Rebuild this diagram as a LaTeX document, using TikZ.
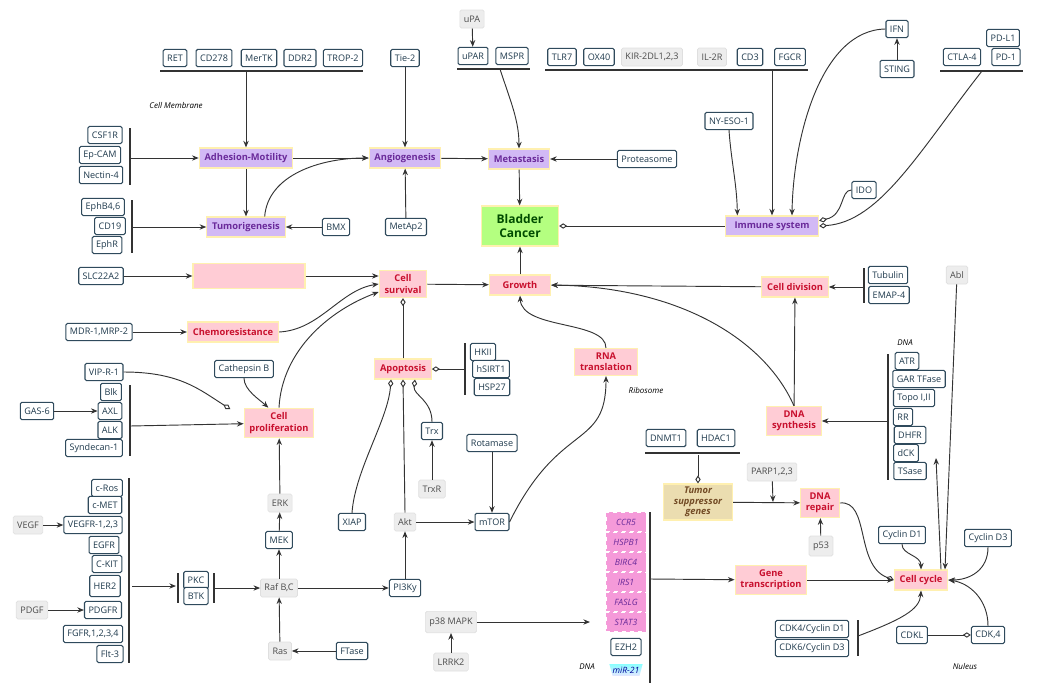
\documentclass[tikz,border=0pt]{standalone}
\usepackage{fontspec}
\setmainfont{Open Sans}
\usetikzlibrary{arrows.meta,shapes.geometric}
\definecolor{bx}{HTML}{2F4A5C}
\definecolor{bt}{HTML}{1F3A4D}
\definecolor{pu}{HTML}{D2B9F5}
\definecolor{put}{HTML}{6A2A9A}
\definecolor{pk}{HTML}{FFCCD5}
\definecolor{pkt}{HTML}{C8102E}
\definecolor{yb}{HTML}{FFF0B0}
\definecolor{gn}{HTML}{B4FF80}
\definecolor{ln}{HTML}{333333}
\definecolor{tan}{HTML}{EBDDB0}
\definecolor{mg}{HTML}{F59AD9}
\begin{document}
\begin{tikzpicture}[x=0.75pt,y=-0.75pt,
  every node/.style={font=\fontsize{6.8}{7.8}\selectfont},
  box/.style={draw=bx,line width=0.8pt,rounded corners=1.2pt,fill=white,text=bt,inner xsep=3pt,inner ysep=1pt,minimum height=13pt},
  gbox/.style={draw=gray!25,line width=0.5pt,rounded corners=1.2pt,fill=gray!14,text=gray!60!black,inner xsep=3pt,inner ysep=1pt,minimum height=13.5pt},
  pur/.style={draw=yb,line width=0.8pt,fill=pu,text=put,font=\fontsize{7}{8}\selectfont\bfseries,inner xsep=4pt,minimum height=15pt},
  pnk/.style={draw=yb,line width=0.8pt,fill=pk,text=pkt,font=\fontsize{7}{8.5}\selectfont\bfseries,inner xsep=4pt,minimum height=15pt,align=center},
  gene/.style={draw=white,dashed,line width=0.5pt,fill=mg,text=put,font=\fontsize{6.5}{7.5}\selectfont\itshape,minimum width=30pt,minimum height=14.5pt,inner sep=0pt},
  lbl/.style={font=\fontsize{6}{7}\selectfont\itshape},
  ar/.style={-{Stealth[length=5pt,width=4pt]},line width=0.7pt,draw=ln},
  dia/.style={-{Diamond[open,length=6pt,width=4pt]},line width=0.7pt,draw=ln},
  br/.style={line width=0.8pt,draw=ln}]
\useasboundingbox (0,0) rectangle (1042,693);
% top membrane group
\node[box] (RET) at (175,58) {RET};
\node[box] (CD278) at (214,58) {CD278};
\node[box] (MerTK) at (259,58) {MerTK};
\node[box] (DDR2) at (300,58) {DDR2};
\node[box] (TROP) at (343,58) {TROP-2};
\draw[br] (160,71) -- (363,71);
\coordinate (mem1) at (246,71);
\node[box] (Tie2) at (405,58) {Tie-2};
\node[gbox] (uPA) at (472,19) {uPA};
\node[box] (uPAR) at (473,56) {uPAR};
\node[box] (MSPR) at (512,56) {MSPR};
\draw[br] (457,69) -- (530,69);
\coordinate (mem2) at (500,69);
\node[lbl] at (176,105) {Cell Membrane};
\node[box] (CSF1R) at (105,135) {CSF1R};
\node[box] (EpCAM) at (100,155) {Ep-CAM};
\node[box] (Nectin) at (101,175) {Nectin-4};
\draw[br] (130,128) -- (130,185);
\coordinate (b1) at (130,158);
\node[pur] (adh) at (246,158) {Adhesion-Motility};
\node[pur] (ang) at (405,158) {Angiogenesis};
\node[pur] (met) at (519,159) {Metastasis};
\node[box] (prot) at (647,159) {Proteasome};
\node[pur] (tum) at (246,227) {Tumorigenesis};
\node[box] (EphB) at (103,207) {EphB4,6};
\node[box] (CD19) at (110,226) {CD19};
\node[box] (EphR) at (107,245) {EphR};
\draw[br] (132,200) -- (132,253);
\coordinate (b2) at (132,227);
\node[box] (BMX) at (336,227) {BMX};
\node[box] (MetAp2) at (406,227) {MetAp2};
\node[draw=yb,line width=0.8pt,fill=gn,text=green!30!black,font=\fontsize{9}{10.5}\selectfont\bfseries,align=center,minimum width=58pt,minimum height=30pt] (bc) at (520,226) {Bladder\\Cancer};
\node[pur,minimum width=70pt] (imm) at (772,226) {Immune system};
\node[box] (NY) at (729,121) {NY-ESO-1};
\node[box] (TLR7) at (562,57) {TLR7};
\node[box] (OX40) at (599,57) {OX40};
\node[gbox] (KIR) at (652,57) {KIR-2DL1,2,3};
\node[gbox] (IL2R) at (712,57) {IL-2R};
\node[box] (CD3) at (750,57) {CD3};
\node[box] (FGCR) at (790,57) {FGCR};
\draw[br] (545,70) -- (808,70);
\coordinate (mem3) at (772,70);
\node[box] (IFN) at (897,29) {IFN};
\node[box] (STING) at (897,69) {STING};
\node[box] (PDL1) at (1003,38) {PD-L1};
\node[box] (CTLA) at (962,57) {CTLA-4};
\node[box] (PD1) at (1006,57) {PD-1};
\draw[br] (940,71) -- (1023,71);
\coordinate (mem4) at (982,71);
\node[box] (IDO) at (864,190) {IDO};
% middle
\node[box] (SLC) at (101,276) {SLC22A2};
\node[pnk,minimum width=84pt,minimum height=19pt] (blank) at (249,276) {};
\node[pnk] (surv) at (403,284) {Cell\\survival};
\node[pnk,minimum width=46pt] (grow) at (520,285) {Growth};
\node[pnk] (div) at (795,287) {Cell division};
\node[box] (Tub) at (888,275) {Tubulin};
\node[box] (EMAP) at (889,295) {EMAP-4};
\draw[br] (864,268) -- (864,303);
\coordinate (b3) at (864,287);
\node[gbox] (Abl) at (957,275) {Abl};
\node[box] (MDR) at (99,332) {MDR-1,MRP-2};
\node[pnk] (chemo) at (233,332) {Chemoresistance};
\node[pnk] (prolif) at (279,423) {Cell\\proliferation};
\node[pnk] (apop) at (403,369) {Apoptosis};
\node[box] (HKII) at (483,352) {HKII};
\node[box] (hSIRT) at (491,369) {hSIRT1};
\node[box] (HSP) at (492,387) {HSP27};
\draw[br] (465,343) -- (465,395);
\coordinate (b4) at (465,369);
\node[pnk] (rna) at (606,362) {RNA\\translation};
\node[lbl] at (646,390) {Ribosome};
\node[pnk] (dsyn) at (794,421) {DNA\\synthesis};
\node[lbl] at (905,343) {DNA};
\node[box] (ATR) at (907,361) {ATR};
\node[box] (GAR) at (919,379) {GAR TFase};
\node[box] (Topo) at (914,398) {Topo I,II};
\node[box] (RR) at (903,417) {RR};
\node[box] (DHFR) at (910,435) {DHFR};
\node[box] (dCK) at (906,453) {dCK};
\node[box] (TSase) at (910,471) {TSase};
\draw[br] (888,354) -- (888,480);
\coordinate (b5) at (888,421);
\node[box] (VIP) at (104,372) {VIP-R-1};
\node[box] (Cath) at (244,369) {Cathepsin B};
\node[box] (Blk) at (111,392) {Blk};
\node[box] (AXL) at (110,411) {AXL};
\node[box] (ALK) at (110,430) {ALK};
\node[box] (Synd) at (94,448) {Syndecan-1};
\draw[br] (130,385) -- (130,456);
\coordinate (b6) at (130,426);
\node[box] (GAS) at (37,411) {GAS-6};
% receptors
\node[box] (cRos) at (107,488) {c-Ros};
\node[box] (cMET) at (105,505) {c-MET};
\node[box] (VEGFR) at (93,525) {VEGFR-1,2,3};
\node[box] (EGFR) at (104,545) {EGFR};
\node[box] (CKIT) at (107,564) {C-KIT};
\node[box,minimum height=16pt] (HER2) at (105,586) {HER2};
\node[box] (PDGFR) at (103,610) {PDGFR};
\node[box] (FGFR) at (93,634) {FGFR,1,2,3,4};
\node[box] (Flt) at (110,654) {Flt-3};
\draw[br] (129,478) -- (129,663);
\coordinate (b7) at (132,586);
\node[gbox] (VEGF) at (28,525) {VEGF};
\node[gbox] (PDGF) at (32,610) {PDGF};
\node[box] (PKC) at (196,580) {PKC};
\node[box] (BTK) at (196,596) {BTK};
\draw[br] (178,573) -- (178,603);
\draw[br] (214,573) -- (214,603);
\coordinate (b8) at (176,586);
\coordinate (b9) at (214,588);
\node[gbox] (Raf) at (279,588) {Raf B,C};
\node[box] (MEK) at (279,540) {MEK};
\node[gbox] (ERK) at (280,503) {ERK};
\node[gbox] (Ras) at (280,651) {Ras};
\node[box] (FTase) at (352,651) {FTase};
\node[box] (PI3) at (405,588) {PI3Ky};
\node[gbox] (Akt) at (405,522) {Akt};
\node[box] (XIAP) at (352,522) {XIAP};
\node[box] (Trx) at (432,431) {Trx};
\node[gbox] (TrxR) at (432,489) {TrxR};
\node[box] (mTOR) at (492,522) {mTOR};
\node[box] (Rot) at (492,443) {Rotamase};
\node[gbox,minimum height=16pt] (p38) at (451,622) {p38 MAPK};
\node[gbox] (LRRK) at (451,662) {LRRK2};
\coordinate (p38e) at (590,622);
% genes
\node[gene] (CCR5) at (626,522) {CCR5};
\node[gene] (HSPB) at (626,542) {HSPB1};
\node[gene] (BIRC) at (626,562) {BIRC4};
\node[gene] (IRS) at (626,582) {IRS1};
\node[gene] (FAS) at (626,602) {FASLG};
\node[gene] (STAT) at (626,622) {STAT3};
\node[box] (EZH2) at (626,647) {EZH2};
\node[trapezium,trapezium angle=75,shape border rotate=180,top color=cyan!45,bottom color=blue!10,text=blue!60!black,font=\fontsize{6.5}{7.5}\selectfont\itshape,inner xsep=0pt,inner ysep=2pt] (mir) at (626,670) {miR-21};
\node[lbl] at (587,667) {DNA};
\draw[br] (650,512) -- (650,683);
\coordinate (b10) at (650,579);
\node[pnk] (gene) at (771,580) {Gene\\transcription};
\node[pnk] (cc) at (921,580) {Cell cycle};
\node[box] (DNMT) at (666,438) {DNMT1};
\node[box] (HDAC) at (716,438) {HDAC1};
\draw[br] (645,453) -- (740,453);
\coordinate (b11) at (698,455);
\node[draw=yb,line width=0.8pt,fill=tan,text=brown!60!black,font=\fontsize{7}{8}\selectfont\bfseries\itshape,align=center,minimum width=52pt,minimum height=27pt,inner sep=1pt] (tsg) at (698,502) {Tumor\\suppressor\\genes};
\node[pnk] (drep) at (820,503) {DNA\\repair};
\node[gbox] (PARP) at (772,472) {PARP1,2,3};
\coordinate (parpe) at (773,502);
\node[gbox,minimum height=15pt] (p53) at (821,546) {p53};
\node[box] (CD1) at (902,535) {Cyclin D1};
\node[box] (CD3b) at (988,538) {Cyclin D3};
\node[box] (CDK4) at (812,629) {CDK4/Cyclin D1};
\node[box] (CDK6) at (812,648) {CDK6/Cyclin D3};
\draw[br] (858,620) -- (858,656);
\coordinate (b12) at (858,636);
\node[box] (CDKL) at (912,635) {CDKL};
\node[box] (CDK) at (988,635) {CDK,4};
\node[lbl] at (965,666) {Nuleus};
\coordinate (ccup) at (936,458);
% connectors
\draw[ar] (mem1) -- (adh);
\draw[ar] (Tie2) -- (ang);
\draw[ar] (uPA) -- (uPAR);
\draw[ar] (mem2) .. controls (510,100) and (519,120) .. (met.north);
\draw[ar] (b1) -- (adh);
\draw[ar] (adh) -- (ang);
\draw[ar] (ang) -- (met);
\draw[ar] (prot) -- (met);
\draw[ar] (adh) -- (tum);
\draw[ar] ([xshift=14pt]tum.north) .. controls (268,175) and (320,158) .. (ang.west);
\draw[ar] (b2) -- (tum);
\draw[ar] (BMX) -- (tum);
\draw[ar] (MetAp2) -- (ang);
\draw[ar] (met) -- (bc);
\draw[dia] (imm) -- (bc);
\draw[ar] (NY.south) .. controls (731,160) and (737,185) .. ([xshift=-26pt]imm.north);
\draw[ar] (mem3) -- (imm);
\draw[ar] (STING) -- (IFN);
\draw[ar] (IFN.west) .. controls (820,30) and (793,140) .. ([xshift=15pt]imm.north);
\draw[dia] (mem4) .. controls (920,150) and (880,222) .. (imm.east);
\draw[dia] (IDO.west) .. controls (840,190) and (845,215) .. ([yshift=4pt]imm.east);
\draw[ar] (SLC) -- (blank);
\draw[ar] (blank.east) -- ([yshift=6pt]surv.west);
\draw[ar] (surv) -- (grow);
\draw[ar] (grow) -- (bc);
\draw[ar] (div) -- (grow);
\draw[ar] (b3) -- (div);
\draw[ar] (Abl) -- ([xshift=18pt]cc.north);
\draw[ar] (MDR) -- (chemo);
\draw[ar] (chemo.east) .. controls (320,330) and (340,290) .. (surv.west);
\draw[ar] (prolif.north) .. controls (282,350) and (330,310) .. ([yshift=-6pt]surv.west);
\draw[dia] (apop) -- (surv);
\draw[dia] (b4) -- (apop);
\draw[ar] (rna.north) .. controls (606,320) and (522,330) .. (grow.south);
\draw[ar] (dsyn) -- (div);
\draw[ar] (dsyn.north) .. controls (765,340) and (680,287) .. (grow.east);
\draw[ar] (b5) -- (dsyn);
\draw[dia] (VIP.east) .. controls (180,372) and (200,390) .. ([xshift=-10pt,yshift=-1pt]prolif.north west);
\draw[ar] (Cath.south) .. controls (244,390) and (260,400) .. ([xshift=-8pt]prolif.north);
\draw[ar] (b6) -- (prolif);
\draw[ar] (GAS) -- (AXL);
\draw[ar] (VEGF) -- (VEGFR);
\draw[ar] (PDGF) -- (PDGFR);
\draw[ar] (b7) -- (b8);
\draw[ar] (b9) -- (Raf);
\draw[ar] (Raf) -- (MEK);
\draw[ar] (MEK) -- (ERK);
\draw[ar] (ERK) -- (prolif);
\draw[ar] (Ras) -- (Raf);
\draw[ar] (FTase) -- (Ras);
\draw[ar] (Raf) -- (PI3);
\draw[ar] (PI3) -- (Akt);
\draw[dia] (Akt.north) -- (apop.south);
\draw[dia] (XIAP.north) .. controls (355,470) and (388,420) .. ([xshift=-9pt]apop.south);
\draw[dia] (Trx.north) .. controls (432,400) and (413,395) .. ([xshift=9pt]apop.south);
\draw[ar] (TrxR) -- (Trx);
\draw[ar] (Akt) -- (mTOR);
\draw[ar] (Rot) -- (mTOR);
\draw[ar] (mTOR.east) .. controls (560,420) and (606,450) .. (rna.south);
\draw[ar] (p38) -- (p38e);
\draw[ar] (LRRK) -- (p38);
\draw[ar] (b10) -- (gene);
\draw[ar] (gene) -- (cc);
\draw[dia] (b11) -- (tsg);
\draw[ar] (tsg) -- (drep);
\draw[ar] (PARP) -- (parpe);
\draw[ar] (p53) -- (drep);
\draw[dia] (drep.east) .. controls (870,500) and (855,565) .. (cc.west);
\draw[ar] (CD1.south) .. controls (902,555) and (921,555) .. (cc.north);
\draw[ar] (CD3b.south) .. controls (988,570) and (970,580) .. (cc.east);
\draw[ar] (b12) .. controls (900,620) and (920,610) .. (cc.south);
\draw[dia] (CDKL) -- (CDK);
\draw[ar] (CDK.north) .. controls (988,600) and (970,583) .. (cc.east);
\draw[ar] ([xshift=15pt]cc.north) -- (ccup);
\end{tikzpicture}
\end{document}
